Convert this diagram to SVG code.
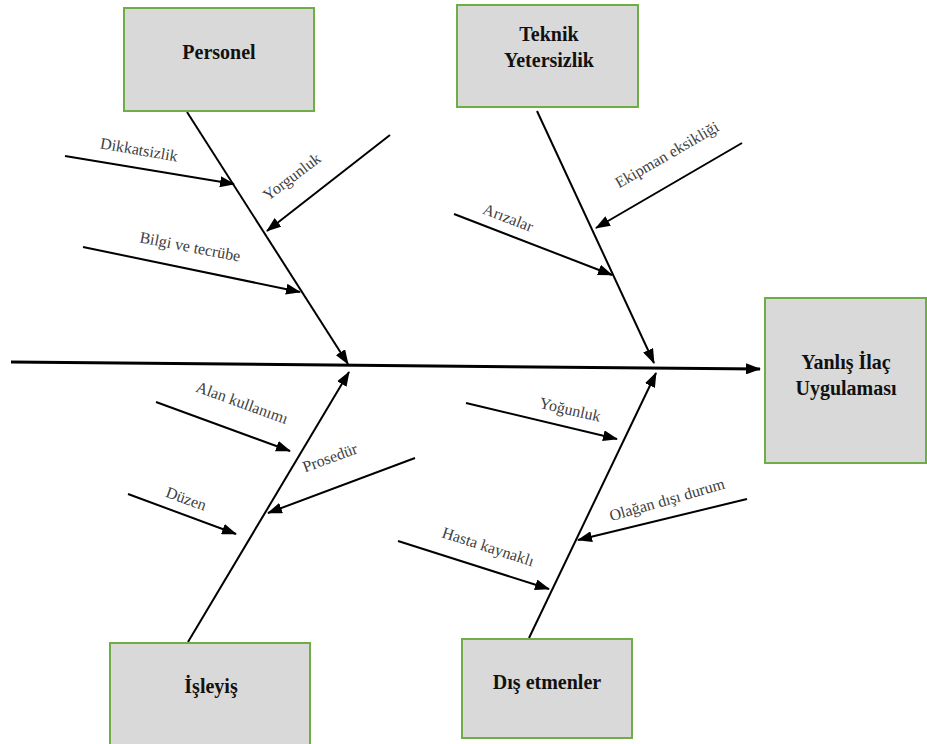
<svg xmlns="http://www.w3.org/2000/svg" width="927" height="744" viewBox="0 0 927 744">
<style>
.box{fill:#d9d9d9;stroke:#70ad47;stroke-width:2}
.title{font-family:"Times New Roman","Liberation Serif","DejaVu Serif",serif;font-weight:bold;font-size:20px;fill:#111;text-anchor:middle}
.lbl{font-family:"Times New Roman","Liberation Serif","DejaVu Serif",serif;font-size:16px;fill:#404040;text-anchor:middle}
.c{stroke:#000;stroke-width:2;fill:none;marker-end:url(#ah)}
</style>
<defs>
<marker id="ah" markerUnits="userSpaceOnUse" markerWidth="15" markerHeight="11" refX="14" refY="5.5" orient="auto">
<path d="M0,0 L15,5.5 L0,11 z" fill="#000"/>
</marker>
</defs>
<rect width="927" height="744" fill="#fff"/>
<g id="connectors">
<line class="c" x1="11" y1="362" x2="760" y2="369" style="stroke-width:3"/>
<line class="c" x1="187" y1="112" x2="348" y2="364"/>
<line class="c" x1="537" y1="111" x2="654" y2="363"/>
<line class="c" x1="188" y1="642" x2="349" y2="372"/>
<line class="c" x1="529" y1="638" x2="656" y2="373"/>
<line class="c" x1="65" y1="156" x2="234" y2="184"/>
<line class="c" x1="390" y1="135" x2="267" y2="231"/>
<line class="c" x1="83" y1="247" x2="300" y2="292"/>
<line class="c" x1="454" y1="214" x2="612" y2="275"/>
<line class="c" x1="742" y1="143" x2="596" y2="228"/>
<line class="c" x1="156" y1="402" x2="290" y2="451"/>
<line class="c" x1="415" y1="458" x2="268" y2="513"/>
<line class="c" x1="128" y1="494" x2="236" y2="534"/>
<line class="c" x1="466" y1="403" x2="617" y2="439"/>
<line class="c" x1="398" y1="541" x2="549" y2="589"/>
<line class="c" x1="747" y1="499" x2="578" y2="540"/>
</g>
<g id="labels">
<text class="lbl" x="139" y="155" transform="rotate(10 139 150)">Dikkatsizlik</text>
<text class="lbl" x="292" y="182" transform="rotate(-37 292 177)">Yorgunluk</text>
<text class="lbl" x="190" y="252" transform="rotate(11 190 247)">Bilgi ve tecrübe</text>
<text class="lbl" x="508" y="223" transform="rotate(21 508 218)">Arızalar</text>
<text class="lbl" x="667" y="160" transform="rotate(-30 667 155)">Ekipman eksikliği</text>
<text class="lbl" x="242" y="408" transform="rotate(20 242 403)">Alan kullanımı</text>
<text class="lbl" x="330" y="463" transform="rotate(-20 330 458)">Prosedür</text>
<text class="lbl" x="186" y="504" transform="rotate(20 186 499)">Düzen</text>
<text class="lbl" x="570" y="415" transform="rotate(13 570 410)">Yoğunluk</text>
<text class="lbl" x="488" y="552" transform="rotate(18 488 547)">Hasta kaynaklı</text>
<text class="lbl" x="667" y="505" transform="rotate(-16 667 500)">Olağan dışı durum</text>
</g>
<g id="personel">
<rect class="box" x="124" y="8" width="190" height="103"/>
<text class="title" x="219" y="59">Personel</text>
</g>
<g id="teknik">
<rect class="box" x="457" y="5" width="181" height="102"/>
<text class="title" x="549" y="41">Teknik</text>
<text class="title" x="549" y="67">Yetersizlik</text>
</g>
<g id="sonuc">
<rect class="box" x="765" y="298" width="161" height="165"/>
<text class="title" x="846" y="369">Yanlış İlaç</text>
<text class="title" x="846" y="395">Uygulaması</text>
</g>
<g id="isleyis">
<rect class="box" x="110" y="643" width="200" height="104"/>
<text class="title" x="211" y="693">İşleyiş</text>
</g>
<g id="dis">
<rect class="box" x="462" y="639" width="170" height="99"/>
<text class="title" x="547" y="689">Dış etmenler</text>
</g>
</svg>
